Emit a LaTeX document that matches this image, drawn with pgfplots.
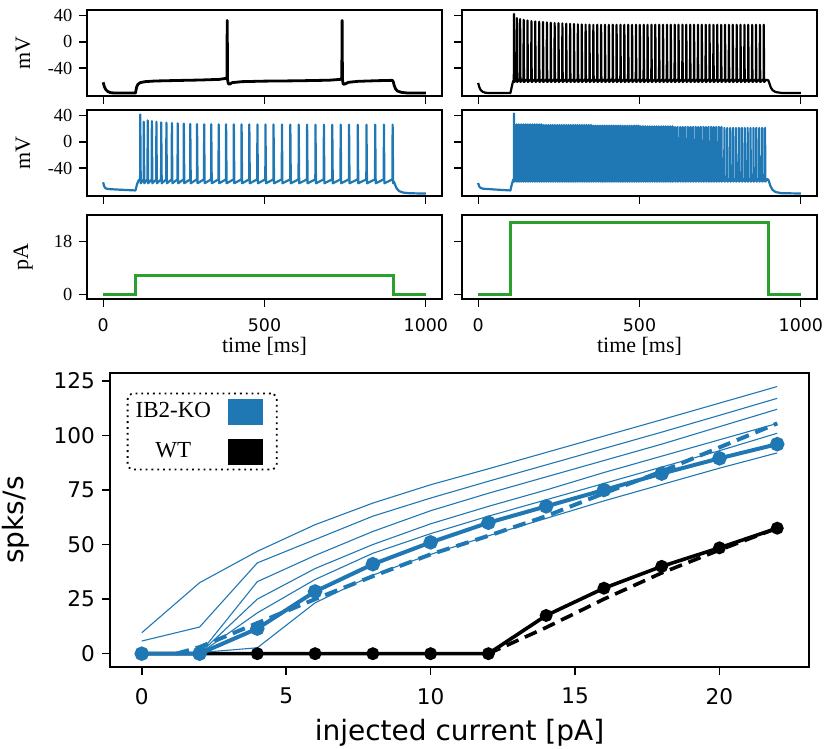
\documentclass[border=0pt]{standalone}
\usepackage{pgfplots}
\pgfplotsset{compat=1.18}
\usepackage{fontspec}
\setmainfont{Liberation Serif}
\newfontfamily\dejavu{DejaVu Sans}
\definecolor{tabblue}{HTML}{1F77B4}
\definecolor{tabgreen}{HTML}{2CA02C}
\pgfplotsset{
  panel/.style={
    scale only axis, width=177.5pt, height=43pt,
    xmin=-50, xmax=1050,
    xtick={0,500,1000}, xticklabels={},
    tick align=outside, xtick pos=bottom, ytick pos=left,
    major tick length=3.8pt,
    axis line style={line width=0.6pt},
    every tick/.style={black, line width=0.6pt},
    yticklabel style={font=\fontsize{9.2}{11}\selectfont},
    ylabel style={font=\fontsize{11}{13}\selectfont, at={(axis description cs:-0.18,0.5)}, anchor=center},
  },
  mvpanel/.style={panel, ymin=-83, ymax=49, ytick={-40,0,40}, yticklabels={-40,0,40}},
  papanel/.style={panel, height=42pt, ymin=-1.4, ymax=27, ytick={0,18}, yticklabels={0,18},
    xticklabels={0,500,1000},
    xticklabel style={font=\dejavu\fontsize{8.7}{10}\selectfont, yshift=-2.5pt},
    xlabel={time [ms]},
    xlabel style={font=\fontsize{11}{13}\selectfont, at={(axis description cs:0.5,-0.56)}, anchor=center}},
}
\begin{document}
\begin{tikzpicture}
\useasboundingbox (0pt,0pt) rectangle (414pt,374pt);
% ---------- row 1 left: WT low current
\begin{axis}[mvpanel, at={(43.5pt,326pt)}, anchor=south west, ylabel={mV}]
\addplot[black, line width=1.4pt, line join=round] coordinates {
(0,-62)(4,-69)(8,-73)(14,-76)(22,-77.8)(35,-78.5)(100,-78.5)(101.5,-75)(104,-69)(108,-65)(115,-62.5)(130,-61)(160,-60)(220,-59.3)(300,-58.5)(360,-57.5)(380,-56)(383.5,-54)(384.5,33)(385.5,-58)(388,-64.5)(393,-64.5)(400,-62.5)(430,-61)(500,-60.2)(600,-59.7)(700,-58.8)(735,-57.5)(739.5,-55)(740.5,33)(741.5,-58)(744,-65)(750,-64.5)(760,-62)(790,-60.5)(850,-59.5)(896,-59)(899,-61)(902,-67)(906,-72)(912,-75.5)(925,-77.5)(945,-78.5)(1000,-78.5)};
\end{axis}
% ---------- row 1 right: WT high current
\begin{axis}[mvpanel, at={(231pt,326pt)}, anchor=south west, yticklabels={}]
\addplot[black, line width=1.1pt, line join=round] coordinates {
(0,-63)(4,-70)(8,-74)(14,-76.5)(22,-78)(35,-78.5)(100,-78.5)(102,-74)(105,-67)(108,-61)(110,-59)
(110.6,-57)(111,43)(112,-61.5)
(119.6,-57)(120,36.5)(121,-61.5)
(129.6,-57)(130,35)(131,-61.5)
(140.6,-57)(141,34)(142,-61.5)
(152.6,-57)(153,33)(154,-61.5)
(164.6,-57)(165,32)(166,-61.5)
(176.6,-57)(177,31.5)(178,-61.5)
(188.6,-57)(189,31)(190,-61.5)
(200.6,-57)(201,30.5)(202,-61.5)
(212.6,-57)(213,30)(214,-61.5)
(224.6,-57)(225,29.5)(226,-61.5)
(236.6,-57)(237,29)(238,-61.5)
(248.6,-57)(249,28.6)(250,-61.5)
(260.6,-57)(261,28.3)(262,-61.5)
(272.6,-57)(273,28)(274,-61.5)
(284.6,-57)(285,27.7)(286,-61.5)
(296.6,-57)(297,27.4)(298,-61.5)
(308.6,-57)(309,27.1)(310,-61.5)
(320.6,-57)(321,26.8)(322,-61.5)
(332.6,-57)(333,26.5)(334,-61.5)
(344.6,-57)(345,26.3)(346,-61.5)
(356.6,-57)(357,26.3)(358,-61.5)
(368.6,-57)(369,26.3)(370,-61.5)
(380.6,-57)(381,26.3)(382,-61.5)
(392.6,-57)(393,26.3)(394,-61.5)
(404.6,-57)(405,26.3)(406,-61.5)
(416.6,-57)(417,26.3)(418,-61.5)
(428.6,-57)(429,26.3)(430,-61.5)
(440.6,-57)(441,26.3)(442,-61.5)
(452.6,-57)(453,26.3)(454,-61.5)
(464.6,-57)(465,26.3)(466,-61.5)
(476.6,-57)(477,26.3)(478,-61.5)
(488.6,-57)(489,26.3)(490,-61.5)
(500.6,-57)(501,26.3)(502,-61.5)
(512.6,-57)(513,26.3)(514,-61.5)
(524.6,-57)(525,26.3)(526,-61.5)
(536.6,-57)(537,26.3)(538,-61.5)
(548.6,-57)(549,26.3)(550,-61.5)
(560.6,-57)(561,26.3)(562,-61.5)
(572.6,-57)(573,26.3)(574,-61.5)
(584.6,-57)(585,26.3)(586,-61.5)
(596.6,-57)(597,26.3)(598,-61.5)
(608.6,-57)(609,26.3)(610,-61.5)
(620.6,-57)(621,26.3)(622,-61.5)
(632.6,-57)(633,26.3)(634,-61.5)
(644.6,-57)(645,26.3)(646,-61.5)
(656.6,-57)(657,26.3)(658,-61.5)
(668.6,-57)(669,26.3)(670,-61.5)
(680.6,-57)(681,26.3)(682,-61.5)
(692.6,-57)(693,26.3)(694,-61.5)
(704.6,-57)(705,26.3)(706,-61.5)
(716.6,-57)(717,26.3)(718,-61.5)
(728.6,-57)(729,26.3)(730,-61.5)
(740.6,-57)(741,26.3)(742,-61.5)
(752.6,-57)(753,26.3)(754,-61.5)
(764.6,-57)(765,26.3)(766,-61.5)
(776.6,-57)(777,26.3)(778,-61.5)
(788.6,-57)(789,26.3)(790,-61.5)
(800.6,-57)(801,26.3)(802,-61.5)
(812.6,-57)(813,26.3)(814,-61.5)
(824.6,-57)(825,26.3)(826,-61.5)
(836.6,-57)(837,26.3)(838,-61.5)
(848.6,-57)(849,26.3)(850,-61.5)
(860.6,-57)(861,26.3)(862,-61.5)
(872.6,-57)(873,26.3)(874,-61.5)
(884.6,-57)(885,26.3)(886,-61.5)
(893,-58)(899,-59)(902,-63)(906,-69)(912,-74)(922,-77)(940,-78.3)(1000,-78.5)};
\end{axis}
% ---------- row 2 left: IB2-KO low current
\begin{axis}[mvpanel, at={(43.5pt,276pt)}, anchor=south west, ylabel={mV}]
\addplot[tabblue, line width=1.1pt, line join=round] coordinates {
(0,-62)(3,-68)(7,-71)(15,-72.3)(50,-73.3)(100,-74.5)(102,-71)(105,-65)(109,-60)(113,-57.5)
(114.5,-57.5)(115,42)(116.5,-63.5)
(125.5,-57.5)(126,31)(127.5,-63.5)
(137.5,-57.5)(138,33)(139.5,-63.5)
(150.5,-57.5)(151,32)(152.5,-63.5)
(164.5,-57.5)(165,31)(166.5,-63.5)
(179.5,-57.5)(180,30)(181.5,-63.5)
(195.5,-57.5)(196,29.5)(197.5,-63.5)
(212.5,-57.5)(213,29)(214.5,-63.5)
(230.5,-57.5)(231,28.5)(232.5,-63.5)
(249.5,-57.5)(250,28)(251.5,-63.5)
(269.5,-57.5)(270,27.5)(271.5,-63.5)
(290.5,-57.5)(291,27.3)(292.5,-63.5)
(312.5,-57.5)(313,27.1)(314.5,-63.5)
(334.5,-57.5)(335,27)(336.5,-63.5)
(357.5,-57.5)(358,27)(359.5,-63.5)
(380.5,-57.5)(381,27)(382.5,-63.5)
(404.5,-57.5)(405,27)(406.5,-63.5)
(428.5,-57.5)(429,27)(430.5,-63.5)
(452.5,-57.5)(453,26.9)(454.5,-63.5)
(477.5,-57.5)(478,26.8)(479.5,-63.5)
(502.5,-57.5)(503,26.8)(504.5,-63.5)
(527.5,-57.5)(528,26.7)(529.5,-63.5)
(553.5,-57.5)(554,26.7)(555.5,-63.5)
(579.5,-57.5)(580,26.6)(581.5,-63.5)
(605.5,-57.5)(606,26.6)(607.5,-63.5)
(631.5,-57.5)(632,26.6)(633.5,-63.5)
(657.5,-57.5)(658,26.5)(659.5,-63.5)
(683.5,-57.5)(684,26.5)(685.5,-63.5)
(709.5,-57.5)(710,26.5)(711.5,-63.5)
(735.5,-57.5)(736,26.5)(737.5,-63.5)
(761.5,-57.5)(762,26.5)(763.5,-63.5)
(788.5,-57.5)(789,26.5)(790.5,-63.5)
(815.5,-57.5)(816,26.5)(817.5,-63.5)
(842.5,-57.5)(843,26.5)(844.5,-63.5)
(869.5,-57.5)(870,26.5)(871.5,-63.5)
(896.5,-57.5)(897,26.5)(898.5,-63.5)
(901,-61)(904,-65)(909,-71)(917,-75.5)(930,-77.8)(950,-78.8)(1000,-79.3)};
\end{axis}
% ---------- row 2 right: IB2-KO high current
\begin{axis}[mvpanel, at={(231pt,276pt)}, anchor=south west, yticklabels={}]
\addplot[tabblue, line width=1.1pt, line join=round] coordinates {
(0,-63)(3,-68)(7,-70.5)(15,-71.8)(50,-73)(100,-74.5)(102,-70)(105,-64)(108,-59)(110,-57)
(110.7,-56)(111,43.5)(112,-61)
(118.7,-56)(119,27)(119.9,-61)
(125.7,-56)(126,27)(126.9,-61)
(132.7,-56)(133,27)(133.9,-61)
(139.7,-56)(140,27)(140.9,-61)
(146.7,-56)(147,27)(147.9,-61)
(153.7,-56)(154,27)(154.9,-61)
(160.7,-56)(161,27)(161.9,-61)
(167.7,-56)(168,27)(168.9,-61)
(174.7,-56)(175,27)(175.9,-61)
(181.7,-56)(182,27)(182.9,-61)
(188.7,-56)(189,27)(189.9,-61)
(195.7,-56)(196,27)(196.9,-61)
(202.7,-56)(203,26)(203.9,-61)
(209.7,-56)(210,26)(210.9,-61)
(216.7,-56)(217,26)(217.9,-61)
(223.7,-56)(224,26)(224.9,-61)
(230.7,-56)(231,26)(231.9,-61)
(237.7,-56)(238,26)(238.9,-61)
(244.7,-56)(245,26)(245.9,-61)
(251.7,-56)(252,26)(252.9,-61)
(258.7,-56)(259,26)(259.9,-61)
(265.7,-56)(266,26)(266.9,-61)
(272.7,-56)(273,26)(273.9,-61)
(279.7,-56)(280,26)(280.9,-61)
(286.7,-56)(287,26)(287.9,-61)
(293.7,-56)(294,26)(294.9,-61)
(300.7,-56)(301,26)(301.9,-61)
(307.7,-56)(308,26)(308.9,-61)
(314.7,-56)(315,26)(315.9,-61)
(321.7,-56)(322,26)(322.9,-61)
(328.7,-56)(329,26)(329.9,-61)
(335.7,-56)(336,26)(336.9,-61)
(342.7,-56)(343,26)(343.9,-61)
(349.7,-56)(350,26)(350.9,-61)
(356.7,-56)(357,25)(357.9,-61)
(363.7,-56)(364,25)(364.9,-61)
(370.7,-56)(371,25)(371.9,-61)
(377.7,-56)(378,25)(378.9,-61)
(384.7,-56)(385,25)(385.9,-61)
(391.7,-56)(392,25)(392.9,-61)
(398.7,-56)(399,25)(399.9,-61)
(405.7,-56)(406,25)(406.9,-61)
(412.7,-56)(413,25)(413.9,-61)
(419.7,-56)(420,25)(420.9,-61)
(426.7,-56)(427,25)(427.9,-61)
(433.7,-56)(434,25)(434.9,-61)
(440.7,-56)(441,25)(441.9,-61)
(447.7,-56)(448,25)(448.9,-61)
(454.7,-56)(455,25)(455.9,-61)
(461.7,-56)(462,25)(462.9,-61)
(468.7,-56)(469,25)(469.9,-61)
(475.7,-56)(476,25)(476.9,-61)
(482.7,-56)(483,25)(483.9,-61)
(489.7,-56)(490,25)(490.9,-61)
(496.7,-56)(497,25)(497.9,-61)
(503.7,-56)(504,24)(504.9,-61)
(510.7,-56)(511,24)(511.9,-61)
(517.7,-56)(518,24)(518.9,-61)
(524.7,-56)(525,24)(525.9,-61)
(531.7,-56)(532,24)(532.9,-61)
(538.7,-56)(539,24)(539.9,-61)
(545.7,-56)(546,24)(546.9,-61)
(552.7,-56)(553,24)(553.9,-61)
(559.7,-56)(560,24)(560.9,-61)
(566.7,-56)(567,24)(567.9,-61)
(573.7,-56)(574,24)(574.9,-61)
(580.7,-56)(581,24)(581.9,-61)
(587.7,-56)(588,24)(588.9,-61)
(594.7,-56)(595,24)(595.9,-61)
(601.7,-56)(602,24)(602.9,-61)
(609.7,-56)(610,23)(610.9,-61)
(617.7,-56)(618,23)(618.9,-61)
(625.7,-56)(626,23)(626.9,-61)
(633.7,-56)(634,23)(634.9,-61)
(641.7,-56)(642,23)(642.9,-61)
(649.7,-56)(650,23)(650.9,-61)
(657.7,-56)(658,23)(658.9,-61)
(665.7,-56)(666,23)(666.9,-61)
(673.7,-56)(674,23)(674.9,-61)
(681.7,-56)(682,23)(682.9,-61)
(689.7,-56)(690,23)(690.9,-61)
(697.7,-56)(698,23)(698.9,-61)
(705.7,-56)(706,23)(706.9,-61)
(713.7,-56)(714,23)(714.9,-61)
(721.7,-56)(722,23)(722.9,-61)
(729.7,-56)(730,23)(730.9,-61)
(737.7,-56)(738,23)(738.9,-61)
(745.7,-56)(746,23)(746.9,-61)
(753.7,-56)(754,23)(754.9,-61)
(762.7,-56)(763,21.5)(763.9,-61)
(771.7,-56)(772,21.5)(772.9,-61)
(780.7,-56)(781,21.5)(781.9,-61)
(789.7,-56)(790,21.5)(790.9,-61)
(798.7,-56)(799,21.5)(799.9,-61)
(807.7,-56)(808,21.5)(808.9,-61)
(816.7,-56)(817,21.5)(817.9,-61)
(825.7,-56)(826,21.5)(826.9,-61)
(834.7,-56)(835,21.5)(835.9,-61)
(843.7,-56)(844,21.5)(844.9,-61)
(852.7,-56)(853,21.5)(853.9,-61)
(861.7,-56)(862,21.5)(862.9,-61)
(870.7,-56)(871,21.5)(871.9,-61)
(879.7,-56)(880,21.5)(880.9,-61)
(888.7,-56)(889,21.5)(889.9,-61)
(895,-57)(899,-58)(902,-62)(906,-68)(912,-73.5)(922,-77)(940,-78.7)(1000,-79.2)};
\end{axis}
% ---------- row 3: current
\begin{axis}[papanel, at={(43.5pt,224.5pt)}, anchor=south west, ylabel={pA}]
\addplot[tabgreen, line width=1.5pt] coordinates {(0,0)(100,0)(100,6.7)(900,6.7)(900,0)(1000,0)};
\end{axis}
\begin{axis}[papanel, at={(231pt,224.5pt)}, anchor=south west, yticklabels={}]
\addplot[tabgreen, line width=1.5pt] coordinates {(0,0)(100,0)(100,24.5)(900,24.5)(900,0)(1000,0)};
\end{axis}
% ---------- bottom f-I curves
\begin{axis}[scale only axis, width=349.5pt, height=147pt, at={(55pt,40.5pt)}, anchor=south west,
  xmin=-1.1, xmax=23.1, ymin=-6.1, ymax=128.6,
  xtick={0,5,10,15,20}, ytick={0,25,50,75,100,125},
  tick align=outside, xtick pos=bottom, ytick pos=left, major tick length=4pt,
  axis line style={line width=0.8pt}, every tick/.style={black, line width=0.8pt},
  ticklabel style={font=\dejavu\fontsize{10.8}{13}\selectfont},
  xticklabel style={yshift=-3pt},
  /pgf/number format/assume math mode=true,
  xlabel={injected current [pA]}, ylabel={spks/s},
  label style={font=\dejavu\fontsize{14}{17}\selectfont},
  xlabel style={at={(axis description cs:0.5,-0.224)}, anchor=center},
  ylabel style={at={(axis description cs:-0.135,0.5)}, anchor=center},
  legend style={at={(axis description cs:0.0239,0.933)}, anchor=north west,
    draw=black, dotted, line width=0.9pt, rounded corners=3pt,
    font=\fontsize{11.5}{13}\selectfont,
    nodes={inner sep=1pt},
    row sep=7pt, column sep=7pt, inner xsep=3pt, inner ysep=2.5pt},
  legend cell align=center,
  legend plot pos=right,
  legend image code/.code={\fill[#1, draw=none, sharp corners] (0pt,-6.5pt) rectangle (17.7pt,6.5pt); \path (0pt,0pt) (21pt,0pt);},
]
\addplot[black, line width=1.8pt, mark=*, mark size=2.3pt, forget plot] coordinates {
(0,0)(2,0)(4,0)(6,0)(8,0)(10,0)(12,0)(14,17.5)(16,30)(18,40)(20,48.5)(22,57.5)};
\addplot[black, line width=1.8pt, dash pattern=on 6.5pt off 3.5pt, forget plot] coordinates {
(12,0)(14,12)(16,25)(18,37)(20,47.5)(22,57.5)};
\addplot[tabblue, line width=0.55pt, forget plot] coordinates {
(0,9.6)(2,32.5)(4,46.9)(6,59.1)(8,69)(10,77.4)(12,84.7)(14,92.2)(16,99.7)(18,107.2)(20,114.8)(22,122.4)};
\addplot[tabblue, line width=0.55pt, forget plot] coordinates {
(0,5.8)(2,12.2)(4,41.6)(6,52.3)(8,63)(10,71.3)(12,79)(14,86.5)(16,94)(18,101.5)(20,109.2)(22,117)};
\addplot[tabblue, line width=0.55pt, forget plot] coordinates {
(0,0)(2,0)(4,33)(6,45)(8,56)(10,65.5)(12,73.5)(14,81)(16,88.5)(18,96)(20,104)(22,112)};
\addplot[tabblue, line width=0.55pt, forget plot] coordinates {
(0,0)(2,0)(4,25)(6,39)(8,50)(10,59.5)(12,67.5)(14,75)(16,83)(18,90.5)(20,98)(22,105.5)};
\addplot[tabblue, line width=0.55pt, forget plot] coordinates {
(0,0)(2,0)(4,18.7)(6,34)(8,46)(10,55)(12,63)(14,70.5)(16,78)(18,85.5)(20,93)(22,101)};
\addplot[tabblue, line width=0.55pt, forget plot] coordinates {
(0,0)(2,0.5)(4,2.7)(6,23.3)(8,36)(10,45.5)(12,54)(14,62)(16,70)(18,77.5)(20,85)(22,92)};
\addplot[tabblue, line width=2pt, mark=*, mark size=2.6pt, forget plot] coordinates {
(0,0)(2,0)(4,11.5)(6,28.5)(8,41)(10,51)(12,60)(14,67.5)(16,75)(18,82.5)(20,89.5)(22,96)};
\addplot[tabblue, line width=2pt, dash pattern=on 6.5pt off 3.5pt, forget plot] coordinates {
(1.2,0)(2,3)(4,14)(6,25)(8,35.5)(10,45.5)(12,54)(14,63)(16,73.5)(18,83.5)(20,94.5)(22,105.5)};
\addlegendimage{fill=tabblue}
\addlegendentry{IB2-KO}
\addlegendimage{fill=black}
\addlegendentry{WT}
\end{axis}
\end{tikzpicture}
\end{document}
